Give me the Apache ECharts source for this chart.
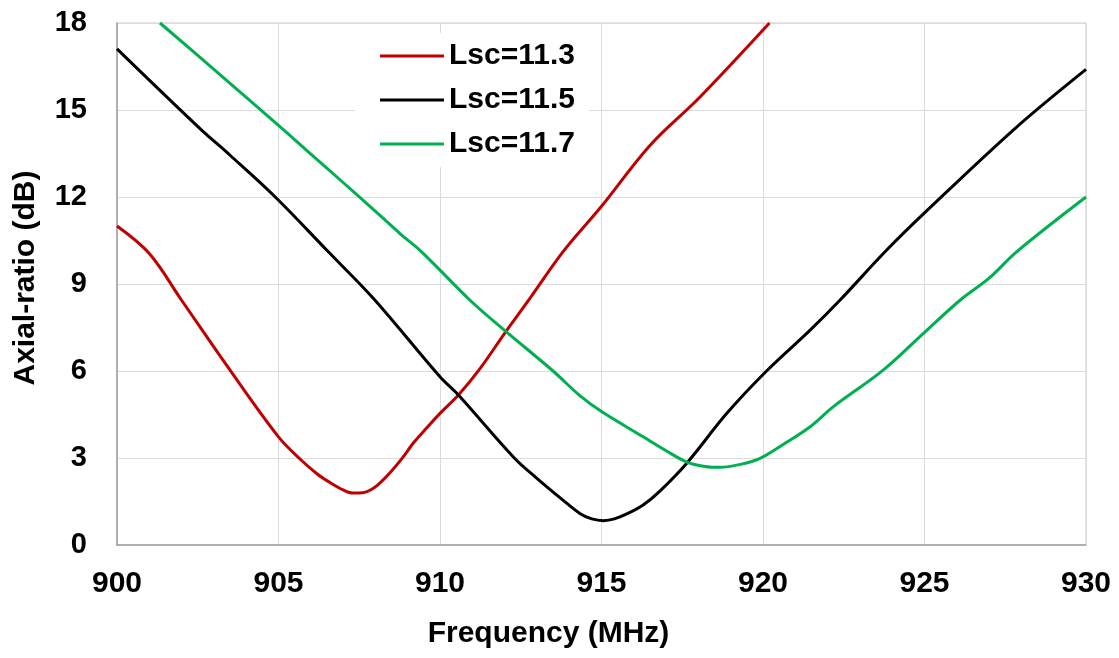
<!DOCTYPE html>
<html>
<head>
<meta charset="utf-8">
<script src="https://cdn.jsdelivr.net/npm/echarts@6/dist/echarts.min.js"></script>
<style>
html,body{margin:0;padding:0;background:#fff;}
#chart{width:1119px;height:658px;}
</style>
</head>
<body>
<div id="chart"></div>
<script>
// ---- data ----
var seriesNames = ['Lsc=11.3', 'Lsc=11.5', 'Lsc=11.7'];

var freqLsc113 = [900.0, 901.0, 902.0, 903.5, 905.0, 905.7, 906.2, 906.6, 907.0, 907.3, 907.6, 907.9, 908.2, 908.5, 908.8, 909.2, 909.6, 910.0, 910.57, 911.25, 912.0, 912.75, 913.8, 915.0, 916.5, 918.05, 920.2];
var arLsc113   = [11.0, 10.05, 8.44, 6.03, 3.73, 2.93, 2.45, 2.15, 1.9, 1.79, 1.8, 1.93, 2.2, 2.55, 2.95, 3.55, 4.05, 4.54, 5.17, 6.1, 7.3, 8.45, 10.1, 11.68, 13.78, 15.45, 18.0];

var freqLsc115 = [900.0, 902.57, 903.5, 904.9, 906.49, 907.94, 910.0, 910.57, 912.3, 913.0, 913.75, 914.33, 914.7, 915.06, 915.4, 915.8, 916.29, 916.8, 917.64, 918.88, 920.11, 921.46, 922.38, 923.83, 925.0, 927.8, 930.0];
var arLsc115   = [17.11, 14.36, 13.44, 12.0, 10.17, 8.5, 5.8, 5.17, 3.0, 2.3, 1.6, 1.09, 0.9, 0.84, 0.9, 1.08, 1.38, 1.85, 2.82, 4.54, 6.0, 7.41, 8.44, 10.17, 11.45, 14.36, 16.4];

var freqLsc117 = [901.33, 903.0, 905.0, 905.87, 907.0, 908.14, 908.76, 909.43, 910.93, 912.0, 913.5, 914.33, 915.0, 916.29, 917.0, 917.64, 918.2, 918.67, 919.3, 919.91, 920.6, 921.46, 922.18, 923.72, 924.96, 926.1, 927.0, 927.85, 930.0];
var arLsc117   = [18.0, 16.4, 14.47, 13.61, 12.5, 11.37, 10.74, 10.11, 8.44, 7.4, 6.0, 5.15, 4.6, 3.73, 3.25, 2.86, 2.71, 2.68, 2.78, 2.99, 3.45, 4.08, 4.77, 6.03, 7.29, 8.44, 9.2, 10.11, 12.0];

var xTicks = [900, 905, 910, 915, 920, 925, 930];
var yTicks = [0, 3, 6, 9, 12, 15, 18];

function pairs(xs, ys) { return xs.map(function (x, i) { return [x, ys[i]]; }); }

var colors = ['#c00000', '#000000', '#00b050'];
var font = 'Liberation Sans, Arial, sans-serif';

var chart = echarts.init(document.getElementById('chart'), null, {renderer: 'canvas'});
var lineSeries = [
  pairs(freqLsc113, arLsc113),
  pairs(freqLsc115, arLsc115),
  pairs(freqLsc117, arLsc117)
].map(function (d, i) {
  return {
    name: seriesNames[i],
    type: 'line',
    data: d,
    smooth: 0.35,
    showSymbol: false,
    symbol: 'none',
    clip: true,
    lineStyle: {color: colors[i], width: 3},
    itemStyle: {color: colors[i]},
    z: 3 + i
  };
});

chart.setOption({
  animation: false,
  backgroundColor: '#ffffff',
  grid: {left: 117, right: 33, top: 23, bottom: 113, show: true, borderColor: '#c8c8c8', borderWidth: 1},
  legend: {
    orient: 'vertical',
    left: 355, top: 33,
    padding: [8, 14, 8, 25],
    backgroundColor: '#ffffff',
    icon: 'rect',
    itemWidth: 64, itemHeight: 3, itemGap: 14,
    textStyle: {fontFamily: font, fontWeight: 'bold', fontSize: 30, lineHeight: 30, color: '#000'},
    data: seriesNames,
    z: 10
  },
  xAxis: {
    type: 'value', min: xTicks[0], max: xTicks[xTicks.length - 1], interval: 5,
    name: 'Frequency (MHz)', nameLocation: 'middle', nameGap: 74,
    nameTextStyle: {fontFamily: font, fontWeight: 'bold', fontSize: 30, color: '#000', padding: [0, 106, 0, 0]},
    axisLine: {show: true, lineStyle: {color: '#a0a0a0', width: 1.5}},
    axisTick: {show: false},
    axisLabel: {margin: 24, fontFamily: font, fontWeight: 'bold', fontSize: 30, color: '#000'},
    splitLine: {show: true, lineStyle: {color: '#dcdcdc', width: 1}}
  },
  yAxis: {
    type: 'value', min: yTicks[0], max: yTicks[yTicks.length - 1], interval: 3,
    name: 'Axial-ratio (dB)', nameLocation: 'middle', nameGap: 76, nameRotate: 90,
    nameTextStyle: {fontFamily: font, fontWeight: 'bold', fontSize: 30, color: '#000', padding: [0, 0, 0, 12]},
    axisLine: {show: true, lineStyle: {color: '#a0a0a0', width: 1.5}},
    axisTick: {show: false},
    axisLabel: {margin: 30, fontFamily: font, fontWeight: 'bold', fontSize: 29, color: '#000'},
    splitLine: {show: true, lineStyle: {color: '#dcdcdc', width: 1}}
  },
  series: lineSeries
});
</script>
</body>
</html>
